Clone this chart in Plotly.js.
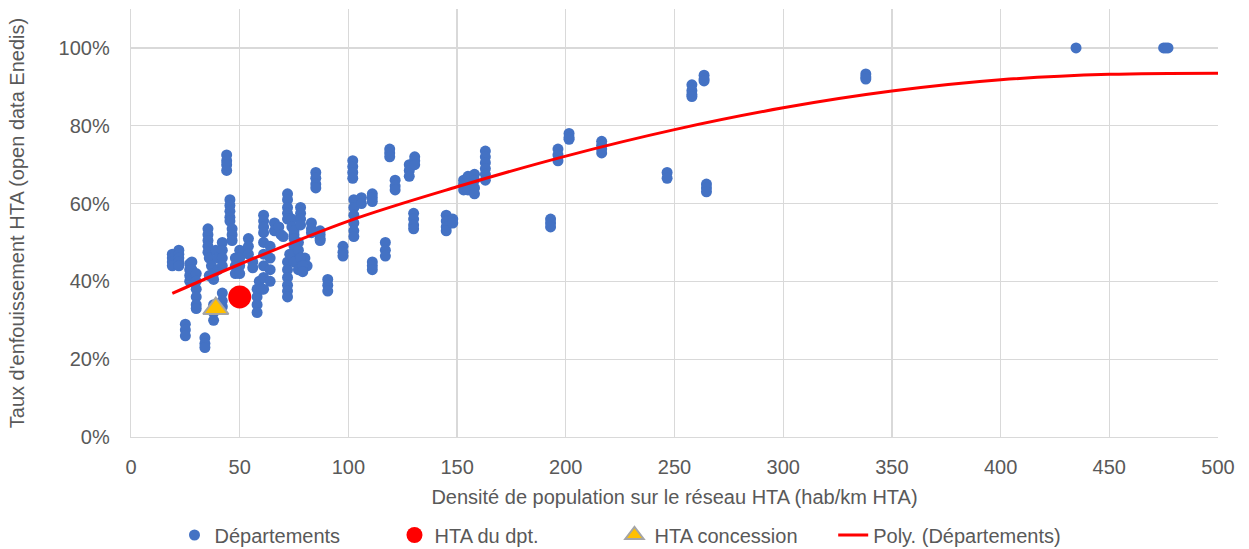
<!DOCTYPE html>
<html>
<head>
<meta charset="utf-8">
<script src="https://cdn.plot.ly/plotly-3.0.1.min.js"></script>
<style>html,body{margin:0;padding:0;background:#fff;}#chart{width:1249px;height:549px;}</style>
</head>
<body>
<div id="chart"></div>
<script>
// Départements: density (hab/km HTA) and undergrounding rate (%)
const deptX = [
  19,19,19,19, 22,22,22,22,22, 27,27,27,27, 28,28, 30,30,30,30,30,30,
  25,25,25, 34,34,34, 38,38,38, 42,42,42,
  35.4,35.4,35.4,35.4,35.4, 36,37,38,39,40,40,38,36,
  42,42,42,42, 44,44,44,44, 45.5,45.5,45.5,45.5,45.5, 46.5,46.5,46.5,
  48,48,48, 50,50,50,50, 54,54,54, 56,56, 58,58,58,58, 59,60,
  61,61,61,61, 61,61,61,61,61, 64,64,64,64,
  66,66,68,69,70, 72,72,72,72,72, 72,72,72,72,72,72,
  74,74,75, 75,75,75,75, 73,75,77,80,81,
  78,78,78,78, 77,77,78,79,79, 83,83,83, 85,85,85,85, 87,87,87,87,
  90.5,90.5,90.5, 97.5,97.5,97.5, 102,102,102,102, 102.5,102.5,102.5,102.5,102.5,102.5,
  106,106, 111,111,111, 111,111,111, 117,117,117, 119,119,119,
  121.5,121.5,121.5, 128,128,128, 130.5,130.5,130.5, 130,130,130,130,
  145,145,145,145, 148,148, 153,153,153,153, 155,155,155, 158,158,158,158,
  163,163,163,163,163,163, 193,193,193, 196.4,196.4,196.4, 201.5,201.5,201.5,
  216.5,216.5,216.5,216.5, 246.6,246.6, 258,258,258,258, 263.6,263.6,263.6,
  264.7,264.7,264.7, 338,338,338, 434.7, 475,476,477
];
const deptY = [
  47,46,45,44, 48,47,46,45,44, 44.5,43,41.5,40, 45,43, 42,40,38,36,34,33,
  29,27.5,26, 25.5,24,23, 34,32,30, 37,35,33.5,
  53.5,52,50.5,49,47.5, 46,44,42,48,46,43,40.5,41.5,
  50,48,46,44, 72.5,71,70,68.5, 61,59.5,58,56.5,55.5, 53.5,52,50.5,
  46,44,42, 48,46,44,42, 51,49,47, 45,43.5, 38,36,34,32, 40,38,
  57,55.5,54,52.5, 50,47,44,41,38, 49,46,43,40,
  55,53,54,52,51.5, 62.5,61,59,57.5,56, 45,43,41,39,37.5,36,
  56,54,52, 53,51,49,47, 47,45,43,46,44,
  59,57.5,56,54.5, 50,48,46,44,42.5, 55,53.5,52.5, 68,66.5,65,64, 53,52,51,50.5,
  40.5,39,37.5, 49,47.5,46.5, 71,69.5,68,66.5, 61,59,57,55,53,51.5,
  61.5,60, 62.5,61.5,60.5, 45,44,43, 50,48,46.5, 74,73,72,
  66,64.5,63.5, 70,68.5,67, 72,71,70, 57.5,56,54.5,53.5,
  57,55.5,54,53, 56,55, 66,65,64.5,63.5, 67,65,63.5, 67.5,66,64,62.5,
  73.5,72,70.5,69,67.5,66, 56,55,54, 74,72.5,71, 78,77,76.5,
  76,75,74,73, 68,66.5, 90.5,89,88,87.5, 93,92,91.5,
  65,64,63, 93.3,92.5,92, 100, 100,100,100
];
// HTA du département
const dptX = [50];
const dptY = [36];
// HTA concession
const concX = [39];
const concY = [33];
// Polynomial trend
const polyX = [19, 50, 100, 150, 200, 250, 300, 350, 400, 450, 500];
const polyY = [36.9, 44.4, 55.5, 64.3, 72.2, 79, 84.6, 88.9, 91.8, 93.2, 93.5];

const xTicks = [0, 50, 100, 150, 200, 250, 300, 350, 400, 450, 500];
const yTicks = [0, 20, 40, 60, 80, 100];

const FONT = 'Liberation Sans, Arial, sans-serif';
const GREY = '#595959';

const traces = [
  {x: deptX, y: deptY, type: 'scatter', mode: 'markers', name: 'Départements',
   marker: {color: '#4472C4', size: 11}, legend: 'legend', legendrank: 1},
  {x: polyX, y: polyY, type: 'scatter', mode: 'lines', name: 'Poly. (Départements)',
   line: {color: '#FF0000', width: 3, shape: 'spline'}, legend: 'legend2'},
  {x: dptX, y: dptY, type: 'scatter', mode: 'markers', name: 'HTA du dpt.',
   marker: {color: '#FF0000', size: 23}, legend: 'legend', legendrank: 2},
  {x: concX, y: concY, type: 'scatter', mode: 'markers', name: 'HTA concession',
   marker: {color: '#FFC000', size: 22, symbol: 'triangle-up', line: {color: '#A5A5A5', width: 2}},
   legend: 'legend', legendrank: 3}
];

const legendCommon = {orientation: 'h', xref: 'paper', xanchor: 'left',
  yref: 'container', y: 0.0255, yanchor: 'middle',
  font: {family: FONT, size: 20, color: GREY}, bgcolor: 'rgba(0,0,0,0)'};

const layout = {
  width: 1249, height: 549,
  margin: {l: 131, r: 31, t: 9, b: 112},
  paper_bgcolor: '#fff', plot_bgcolor: '#fff',
  font: {family: FONT, color: GREY, size: 20},
  showlegend: true,
  legend: Object.assign({}, legendCommon, {x: 0.04, entrywidth: 175, entrywidthmode: 'pixels', traceorder: 'normal'}),
  legend2: Object.assign({}, legendCommon, {x: 0.646}),
  xaxis: {range: [0, 500], tickvals: xTicks, ticktext: xTicks.map(String),
          showgrid: true, gridcolor: '#D9D9D9', gridwidth: 1.3, zeroline: false,
          showline: true, linecolor: '#D9D9D9', linewidth: 1.3, ticks: '',
          ticklabelstandoff: 12, tickfont: {family: FONT, size: 20, color: GREY},
          title: {text: 'Densité de population sur le réseau HTA (hab/km HTA)', standoff: 12,
                  font: {family: FONT, size: 20, color: GREY}}},
  yaxis: {range: [0, 110], tickvals: yTicks, ticktext: yTicks.map(v => v + '%'),
          showgrid: true, gridcolor: '#D9D9D9', gridwidth: 1.3, zeroline: false,
          showline: true, linecolor: '#D9D9D9', linewidth: 1.3, ticks: '',
          ticklabelstandoff: 16, tickfont: {family: FONT, size: 20, color: GREY},
          title: {text: "Taux d'enfouissement HTA (open data Enedis)", standoff: 28,
                  font: {family: FONT, size: 20, color: GREY}}}
};

Plotly.newPlot('chart', traces, layout, {displayModeBar: false, staticPlot: true});
</script>
</body>
</html>
